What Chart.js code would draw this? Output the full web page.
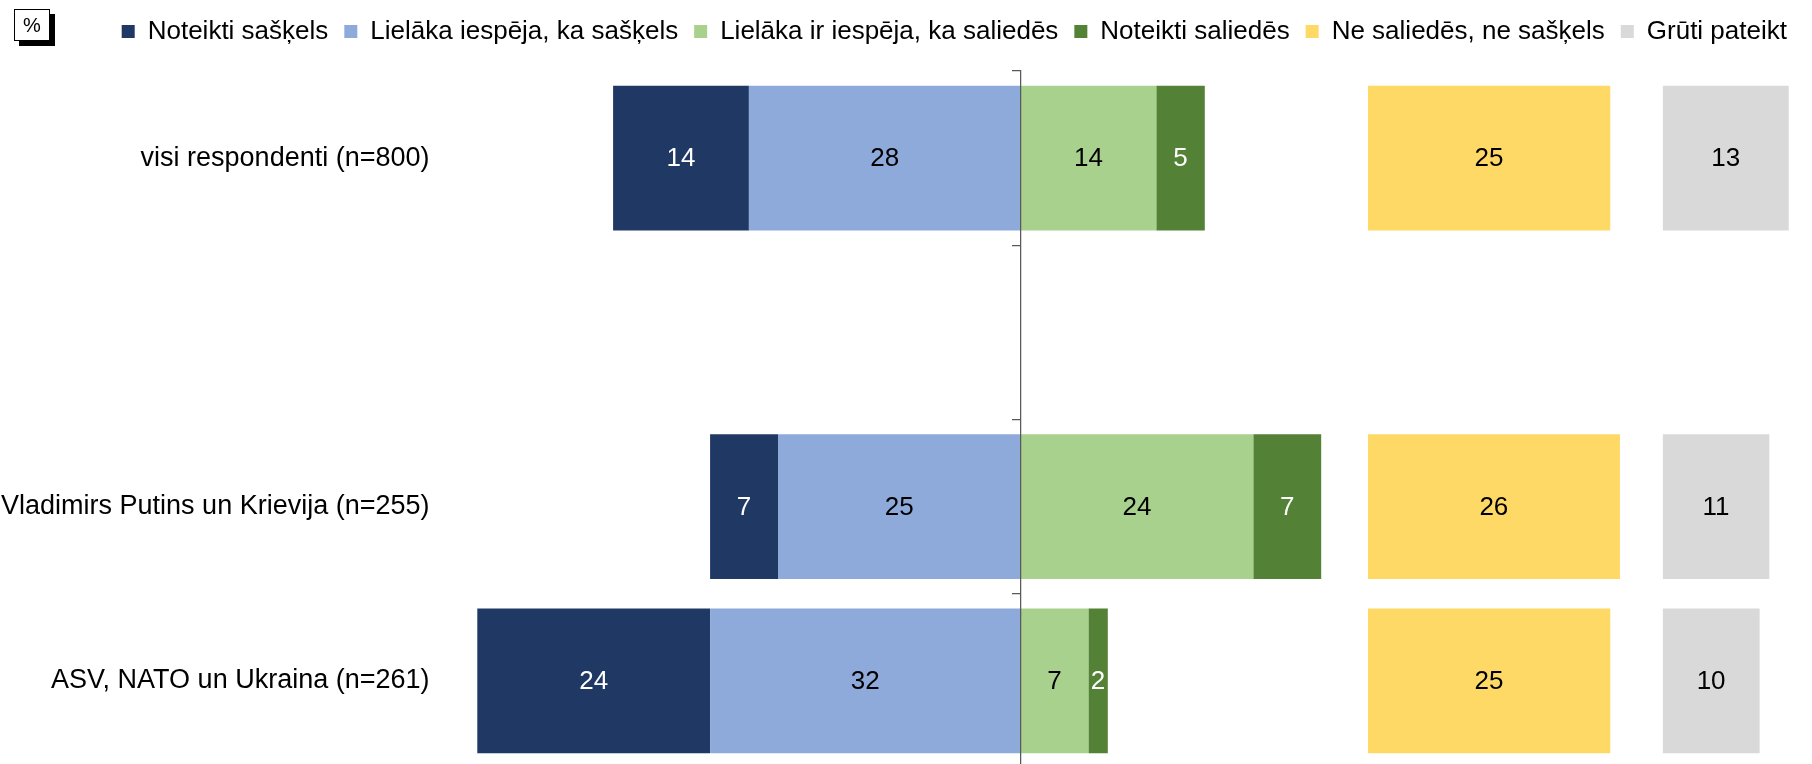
<!DOCTYPE html>
<html>
<head>
<meta charset="utf-8">
<script src="https://cdn.jsdelivr.net/npm/chart.js@4.4.1/dist/chart.umd.min.js"></script>
<style>
  html, body { margin: 0; padding: 0; background: #fff; }
  #wrap { width: 1812px; height: 764px; }
</style>
</head>
<body>
<div id="wrap"><canvas id="chart"></canvas></div>
<script>
// ── Data ─────────────────────────────────────────────
const categories  = ['visi respondenti (n=800)', '', 'Vladimirs Putins un Krievija (n=255)', 'ASV, NATO un Ukraina (n=261)'];
const seriesNames = ['Noteikti sašķels', 'Lielāka iespēja, ka sašķels', 'Lielāka ir iespēja, ka saliedēs',
                     'Noteikti saliedēs', 'Ne saliedēs, ne sašķels', 'Grūti pateikt'];
const surelySplit = [14, null, 7, 24];
const likelySplit = [28, null, 25, 32];
const likelyUnite = [14, null, 24, 7];
const surelyUnite = [5, null, 7, 2];
const neither     = [25, null, 26, 25];
const hardToSay   = [13, null, 11, 10];

// ── Styles ───────────────────────────────────────────
const colors      = ['#1f3864', '#8eaadb', '#a9d18e', '#538135', '#ffd966', '#d9d9d9'];
const labelColors = ['#ffffff', '#000000', '#000000', '#ffffff', '#000000', '#000000'];
const FONT = '"Liberation Sans", Arial, sans-serif';

Chart.defaults.font.family = FONT;
Chart.defaults.font.size = 26;
Chart.defaults.color = '#000';

const neg = arr => arr.map(v => v == null ? null : -v);
const base = { borderWidth: 0, grouped: false, categoryPercentage: 1, barPercentage: 0.83, yAxisID: 'y' };

// ── Plugins ──────────────────────────────────────────
// numbers in the middle of each bar
const valueLabels = {
  id: 'valueLabels',
  afterDatasetsDraw(chart) {
    const ctx = chart.ctx;
    ctx.save();
    ctx.font = '26px ' + FONT;
    ctx.textAlign = 'center';
    ctx.textBaseline = 'middle';
    chart.data.datasets.forEach((ds, i) => {
      chart.getDatasetMeta(i).data.forEach((bar, j) => {
        const v = ds.data[j];
        if (v == null) return;
        ctx.fillStyle = labelColors[i];
        ctx.fillText(Math.abs(v), (bar.x + bar.base) / 2, bar.y + 1);
      });
    });
    ctx.restore();
  }
};

// legend band is taller than the legend itself and starts after the "%" box;
// the plot area runs a few pixels past the bottom edge of the picture
const OVERHANG = 4;
const layoutTweaks = {
  id: 'layoutTweaks',
  beforeLayout(chart) {
    const lg = chart.legend;
    if (!lg || lg._patched) return;
    const fit = lg.fit;
    lg.fit = function () { fit.call(this); this.height = 71; };
    lg._patched = true;
  },
  afterLayout(chart) {
    if (chart.legend) {
      chart.legend.left = 105.7;
      chart.legend.top = 2.5;
    }
    chart.chartArea.bottom += OVERHANG;
    chart.chartArea.height += OVERHANG;
    ['y', 'y2'].forEach(id => {
      const s = chart.scales[id];
      s.bottom += OVERHANG;
      s.height += OVERHANG;
      s.configure();
    });
  }
};

// "%" box in the top-left corner
const unitBox = {
  id: 'unitBox',
  afterDraw(chart) {
    const ctx = chart.ctx;
    ctx.save();
    ctx.fillStyle = '#000';
    ctx.fillRect(19, 14, 36, 32);
    ctx.fillStyle = '#fff';
    ctx.fillRect(14, 9, 36, 32);
    ctx.strokeStyle = '#000';
    ctx.lineWidth = 1;
    ctx.strokeRect(14.5, 9.5, 35, 31);
    ctx.fillStyle = '#000';
    ctx.font = '20px ' + FONT;
    ctx.textAlign = 'center';
    ctx.textBaseline = 'middle';
    ctx.fillText('%', 32, 26);
    ctx.restore();
  }
};

const noPad = s => { s.paddingTop = 0; s.paddingBottom = 0; };

// ── Chart ────────────────────────────────────────────
new Chart(document.getElementById('chart'), {
  type: 'bar',
  data: {
    labels: categories,
    datasets: [
      { ...base, label: seriesNames[0], data: neg(surelySplit), backgroundColor: colors[0], xAxisID: 'x', order: 1 },
      { ...base, label: seriesNames[1], data: neg(likelySplit), backgroundColor: colors[1], xAxisID: 'x' },
      { ...base, label: seriesNames[2], data: likelyUnite, backgroundColor: colors[2], xAxisID: 'x' },
      { ...base, label: seriesNames[3], data: surelyUnite, backgroundColor: colors[3], xAxisID: 'x' },
      { ...base, label: seriesNames[4], data: neither,     backgroundColor: colors[4], xAxisID: 'x2' },
      { ...base, label: seriesNames[5], data: hardToSay,   backgroundColor: colors[5], xAxisID: 'x3' }
    ]
  },
  options: {
    indexAxis: 'y',
    animation: false,
    responsive: true,
    maintainAspectRatio: false,
    layout: { padding: 0 },
    plugins: {
      tooltip: { enabled: false },
      legend: {
        position: 'top',
        align: 'start',
        labels: {
          boxWidth: 13, boxHeight: 13, padding: 16, color: '#000',
          font: { size: 26 },
          sort: (a, b) => a.datasetIndex - b.datasetIndex
        }
      }
    },
    scales: {
      x:  { type: 'linear', display: false, stacked: true, min: -60, max: 35.8, stack: 'cols', stackWeight: 95.8 },
      x2: { type: 'linear', display: false, min: 0, max: 30.4, stack: 'cols', stackWeight: 30.4 },
      x3: { type: 'linear', display: false, min: 0, max: 15.4, stack: 'cols', stackWeight: 15.4 },
      y: {
        type: 'category', position: 'left', offset: true, stacked: true,
        grid: { display: false, drawTicks: false },
        border: { display: false },
        ticks: { padding: 9, font: { size: 27 }, color: '#000' },
        afterFit: s => { s.width = 438.5; noPad(s); }
      },
      y2: {
        type: 'category', axis: 'y', position: { x: 0 }, offset: true,
        grid: { offset: true, drawOnChartArea: false, drawTicks: true, tickLength: 8, color: '#595959', lineWidth: 1.25, z: 1 },
        border: { display: true, color: '#595959', width: 1.25, z: 1 },
        ticks: { display: false },
        afterFit: noPad
      }
    }
  },
  plugins: [valueLabels, layoutTweaks, unitBox]
});
</script>
</body>
</html>
